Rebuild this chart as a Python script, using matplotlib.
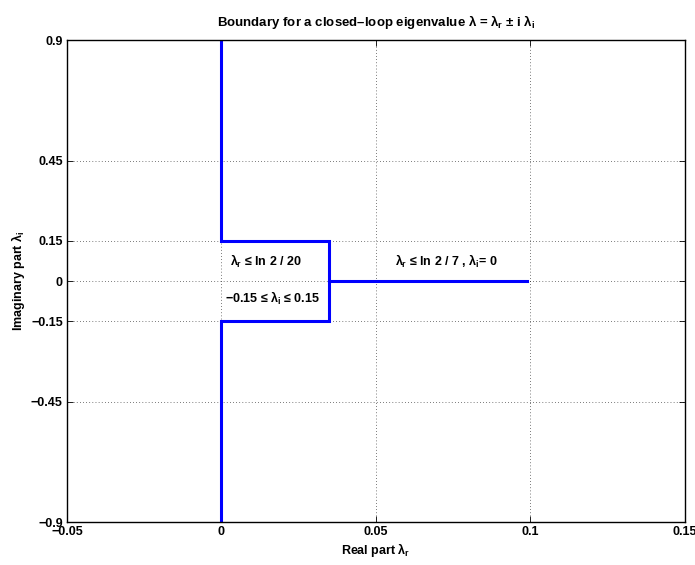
import matplotlib
matplotlib.use('Agg')
import matplotlib.pyplot as plt

plt.rcParams['font.family'] = ['Liberation Sans', 'DejaVu Sans']
plt.rcParams['font.weight'] = 'bold'
plt.rcParams['mathtext.fontset'] = 'custom'
plt.rcParams['mathtext.rm'] = 'Liberation Sans:bold'
plt.rcParams['mathtext.it'] = 'Liberation Sans'

# boundary of the allowed region (complex eigenvalues)
bound_x = [0.0, 0.0, 0.0347, 0.0347, 0.0, 0.0]
bound_y = [-0.9, -0.15, -0.15, 0.15, 0.15, 0.9]
# real eigenvalue segment
real_x = [0.0347, 0.099]
real_y = [0.0, 0.0]

xticks = [-0.05, 0, 0.05, 0.1, 0.15]
xticklabels = ['\u22120.05', '0', '0.05', '0.1', '0.15']
yticks = [-0.9, -0.45, -0.15, 0, 0.15, 0.45, 0.9]
yticklabels = ['\u22120.9', '\u22120.45', '\u22120.15', '0', '0.15', '0.45', '0.9']

lr = r'$\lambda_{\rm r}$'
li = r'$\lambda_{\rm i}$'

fig = plt.figure(figsize=(6.95, 5.65), dpi=100)
ax = fig.add_axes([0.0964, 0.076, 0.8892, 0.853])

ax.plot(bound_x, bound_y, color=(0, 0, 1), lw=2.2, solid_joinstyle='miter')
ax.plot(real_x, real_y, color=(0, 0, 1), lw=2.2)

ax.set_xlim(-0.05, 0.15)
ax.set_ylim(-0.9, 0.9)
ax.set_xticks(xticks)
ax.set_xticklabels(xticklabels)
ax.set_yticks(yticks)
ax.set_yticklabels(yticklabels)
ax.tick_params(direction='in', top=True, right=True, labelsize=9, length=4, width=0.6, pad=3)
for s in ax.spines.values():
    s.set_linewidth(1.0)
ax.grid(True, color='k', linestyle=(0, (1, 3.5)), linewidth=0.5)

ax.text(0.0026, 0.075, lr + ' \u2264 ln 2 / 20', fontsize=9, fontweight='bold', va='center', ha='left')
ax.text(0.0011, -0.065, '\u22120.15 \u2264 ' + li + ' \u2264 0.15', fontsize=9, fontweight='bold',
        va='center', ha='left')
ax.text(0.056, 0.075, lr + ' \u2264 ln 2 / 7 , ' + li + '= 0', fontsize=9, fontweight='bold',
        va='center', ha='left')

ax.set_title('Boundary for a closed\u2013loop eigenvalue ' + r'$\lambda$' + ' = ' + lr + ' \u00b1 i ' + li,
             fontsize=9.5, fontweight='bold', pad=10)
ax.set_xlabel('Real part ' + lr, fontsize=9, fontweight='bold', labelpad=2)
ax.set_ylabel('Imaginary part ' + li, fontsize=9, fontweight='bold', labelpad=3)

fig.savefig('out.png', dpi=100)
